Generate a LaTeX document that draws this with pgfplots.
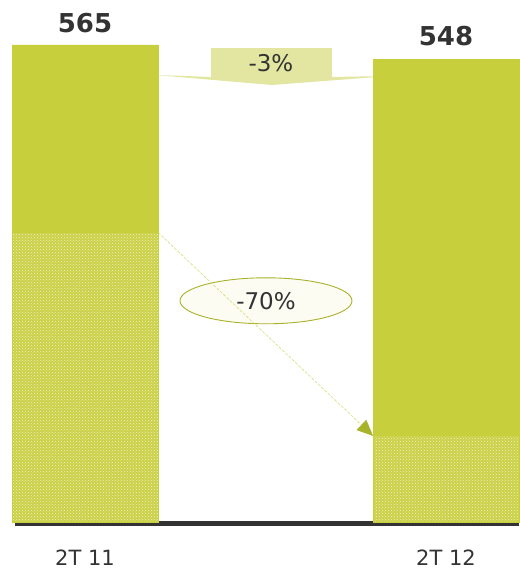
\documentclass[border=0pt]{standalone}
\usepackage{fontspec}
\setmainfont{DejaVu Sans}
\usepackage{pgfplots}
\pgfplotsset{compat=1.18}
\usetikzlibrary{patterns,arrows.meta,shapes.geometric}
\definecolor{barg}{HTML}{C8CF3C}
\definecolor{patg}{HTML}{CBD147}
\definecolor{oliv}{HTML}{A9B22B}
\definecolor{txt}{HTML}{333333}
\definecolor{lightg}{HTML}{E2E6A0}
\begin{document}
\begin{tikzpicture}
\begin{axis}[
  scale only axis, width=519pt, height=522pt,
  xmin=-0.2355, xmax=1.2022, ymin=0, ymax=618.3,
  ybar stacked, bar width=146pt,
  axis line style={draw=none}, tick style={draw=none},
  ytick=\empty, xtick={0,1}, xticklabels={2T 11,2T 12},
  xticklabel style={font=\fontsize{21}{24}\selectfont, text=txt, anchor=base, yshift=-43pt},
  clip=false,
]
\addplot[fill=patg, draw=barg, line width=0.8pt, postaction={pattern=crosshatch dots, pattern color=white!70!barg}] coordinates {(0,343) (1,102)};
\addplot[fill=barg, draw=barg] coordinates {(0,222) (1,446)};
\draw[txt, line width=5pt] ([yshift=-1.5pt]axis cs:-0.194,0) -- ([yshift=-1.5pt]axis cs:1.2022,0);
% callout for the minus three percent change
\fill[lightg] (axis cs:0.194,529.5) -- (axis cs:0.349,527.1) -- (axis cs:0.349,561.4) -- (axis cs:0.684,561.4) -- (axis cs:0.684,527.1) -- (axis cs:0.845,528.3) -- (axis cs:0.518,517.6) -- cycle;
\coordinate (m3) at (axis cs:0.515,543);
% arrow for the minus seventy percent change
\draw[barg!70, line width=0.6pt, dash pattern=on 3pt off 1.5pt, -{Triangle[length=16pt,width=14pt,color=oliv]}] (axis cs:0.2022,343) -- (axis cs:0.7978,102);
\node[ellipse, draw=oliv, line width=0.9pt, fill=barg!6, minimum width=172pt, minimum height=46pt, inner sep=0pt, font=\fontsize{23}{26}\selectfont, text=txt] at (axis cs:0.5013,262) {-70\%};
\node[font=\bfseries\fontsize{26}{30}\selectfont, text=txt, anchor=base, yshift=12pt] at (axis cs:0,565) {565};
\node[font=\bfseries\fontsize{26}{30}\selectfont, text=txt, anchor=base, yshift=14pt] at (axis cs:1,548) {548};
\node[font=\bfseries\fontsize{26}{30}\selectfont, text=txt] at (axis cs:0,171.5) {343};
\node[font=\bfseries\fontsize{26}{30}\selectfont, text=txt] at (axis cs:1,51) {102};
\end{axis}
\node[font=\fontsize{23}{26}\selectfont, text=txt] at (m3) {-3\%};
\pgfresetboundingbox
\path[use as bounding box] (0,-50pt) rectangle (519pt,522pt);
\end{tikzpicture}
\end{document}
